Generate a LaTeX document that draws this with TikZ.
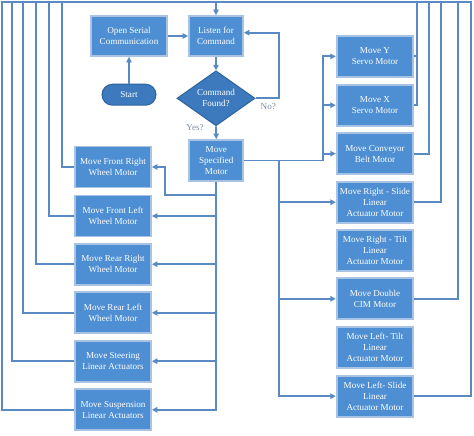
\documentclass[tikz,border=0pt]{standalone}
\usepackage{fontspec}
\setmainfont{Liberation Serif}
\usetikzlibrary{shapes.geometric,shapes.misc,arrows.meta}
\definecolor{boxblue}{HTML}{4E8ED2}
\definecolor{boxedge}{HTML}{A8C3E3}
\definecolor{darkblue}{HTML}{3C7ABD}
\definecolor{darkedge}{HTML}{2D64A0}
\definecolor{linecol}{HTML}{5A8AC3}
\definecolor{labcol}{HTML}{8090A8}
\tikzset{
  procbox/.style={rectangle, fill=boxblue, draw=boxedge, line width=1.8pt, minimum width=76pt, minimum height=41pt, inner sep=1pt, align=center, text=white, font=\fontsize{9.1}{11}\selectfont},
  decbox/.style={diamond, fill=darkblue, draw=darkedge, line width=1pt, minimum width=78pt, minimum height=55pt, inner sep=0pt, aspect=1.42, align=center, text=white, font=\fontsize{9.1}{11}\selectfont},
  termbox/.style={rounded rectangle, fill=darkblue, draw=darkedge, line width=1pt, minimum width=56pt, minimum height=21pt, inner sep=1pt, text=white, font=\fontsize{9.1}{11}\selectfont},
  conn/.style={draw=linecol, line width=1.9pt},
  arr/.style={conn, -{Triangle[length=5.5pt,width=5.5pt]}},
  lab/.style={text=labcol, font=\fontsize{9.1}{11}\selectfont, inner sep=0pt}
}
\begin{document}
\begin{tikzpicture}[x=1pt,y=-1pt]
\useasboundingbox[fill=white] (0,0) rectangle (474,436);
% centre column
\node[procbox, minimum width=76.6pt, minimum height=40pt] (os) at (129,36) {Open Serial\\Communication};
\node[procbox, minimum width=54pt, minimum height=40pt] (lc) at (216,36) {Listen for\\Command};
\node[termbox] (st) at (129,94.7) {Start};
\node[decbox] (dm) at (216,98.3) {Command\\Found?};
\node[procbox, minimum width=54pt] (ms) at (216.3,160.5) {Move\\Specified\\Motor};
% left boxes
\node[procbox] (fr) at (113,167) {Move Front Right\\Wheel Motor};
\node[procbox] (fl) at (113,216) {Move Front Left\\Wheel Motor};
\node[procbox] (rr) at (113,264.2) {Move Rear Right\\Wheel Motor};
\node[procbox] (rl) at (113,312.8) {Move Rear Left\\Wheel Motor};
\node[procbox] (sa) at (113,361.2) {Move Steering\\Linear Actuators};
\node[procbox] (su) at (113,409.8) {Move Suspension\\Linear Actuators};
% right boxes
\node[procbox, minimum width=76.6pt] (ys) at (375,56.4) {Move Y\\Servo Motor};
\node[procbox, minimum width=76.6pt] (xs) at (375,105.2) {Move X\\Servo Motor};
\node[procbox, minimum width=76.6pt] (cb) at (375,153.7) {Move Conveyor\\Belt Motor};
\node[procbox, minimum width=76.6pt] (rs) at (375,202.2) {Move Right - Slide\\Linear\\Actuator Motor};
\node[procbox, minimum width=76.6pt] (rt) at (375,250.8) {Move Right - Tilt\\Linear\\Actuator Motor};
\node[procbox, minimum width=76.6pt] (dc) at (375,298.8) {Move Double\\CIM Motor};
\node[procbox, minimum width=76.6pt] (lt) at (375,347.2) {Move Left- Tilt\\Linear\\Actuator Motor};
\node[procbox, minimum width=76.6pt] (ls) at (375,396.2) {Move Left- Slide\\Linear\\Actuator Motor};
% labels
\node[lab] (yes) at (195,127.7) {Yes?};
\node[lab] (no) at (268.3,106.7) {No?};
% helper coordinates
\coordinate (t1) at (1.7,1.7);
\coordinate (t2) at (12.3,1.7);
\coordinate (t3) at (22.7,1.7);
\coordinate (t4) at (35.7,1.7);
\coordinate (t5) at (49.3,1.7);
\coordinate (t6) at (61.7,1.7);
\coordinate (r1) at (417.3,1.7);
\coordinate (r2) at (429.3,1.7);
\coordinate (r3) at (440.7,1.7);
\coordinate (r4) at (458.3,1.7);
\coordinate (r5) at (470.7,1.7);
\coordinate (upx) at (322.7,0);
\coordinate (lowx) at (279.3,0);
\coordinate (noc) at (279.3,32.7);
\coordinate (frb) at (165,195);
% frame / feedback lines
\draw[conn] (su.west) -| (t1) -- (r5) |- (ls.east);
\draw[conn] (sa.west) -| (t2);
\draw[conn] (rl.west) -| (t3);
\draw[conn] (rr.west) -| (t4);
\draw[conn] (fl.west) -| (t5);
\draw[conn] (fr.west) -| (t6);
\draw[conn] (ys.east) -| (r1);
\draw[conn] (xs.east) -| (r1);
\draw[conn] (cb.east) -| (r2);
\draw[conn] (rs.east) -| (r3);
\draw[conn] (dc.east) -| (r4);
\draw[arr] (lc.north |- t1) -- (lc.north);
% main flow
\draw[arr] (st.north) -- (os.south);
\draw[arr] (os.east) -- (lc.west);
\draw[arr] (lc.south) -- (dm.north);
\draw[arr] (dm.south) -- (ms.north);
\draw[arr] (dm.east) -| (noc) -- (noc -| lc.east);
% left distribution
\draw[arr] (ms.south) |- (su.east);
\draw[arr] (ms.south |- sa.east) -- (sa.east);
\draw[arr] (ms.south |- rl.east) -- (rl.east);
\draw[arr] (ms.south |- rr.east) -- (rr.east);
\draw[arr] (ms.south |- fl.east) -- (fl.east);
\draw[arr] (ms.south |- frb) -- (frb) |- (fr.east);
% right distribution
\draw[arr] (ms.east) -| (upx |- ys.west) -- (ys.west);
\draw[arr] (upx |- xs.west) -- (xs.west);
\draw[arr] (upx |- cb.west) -- (cb.west);
\draw[arr] (lowx |- ms.east) |- (ls.west);
\draw[arr] (lowx |- rs.west) -- (rs.west);
\draw[arr] (lowx |- dc.west) -- (dc.west);
\end{tikzpicture}
\end{document}
